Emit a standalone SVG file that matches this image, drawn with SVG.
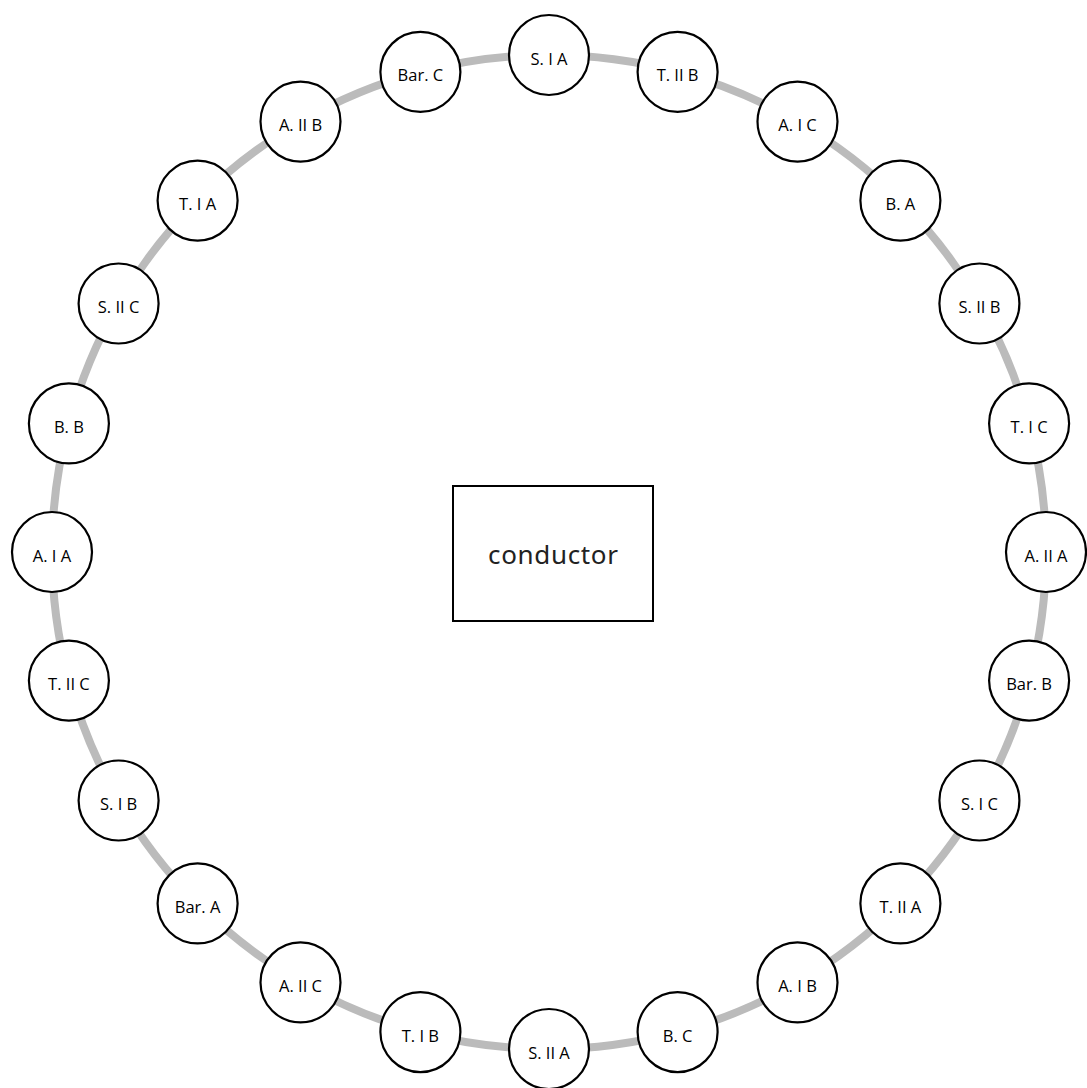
<svg xmlns="http://www.w3.org/2000/svg" width="1087" height="1088" viewBox="0 0 1087 1088">
<style>
.edge{fill:none;stroke:#bbbbbb;stroke-width:8}
.node circle{fill:#ffffff;stroke:#000000;stroke-width:2.2}
.node text{font-family:"Open Sans","Noto Sans","Liberation Sans",sans-serif;font-size:16.5px;fill:#000000;text-anchor:middle;dominant-baseline:central}
.box rect{fill:#ffffff;stroke:#000000;stroke-width:2}
.box text{font-family:"Noto Sans","Open Sans","Liberation Sans",sans-serif;font-size:26px;fill:#222222;text-anchor:middle}
</style>
<rect x="0" y="0" width="1087" height="1088" fill="#ffffff"/>
<g id="connectors">
<path class="edge" d="M549 55A497 497 0 0 1 677.6 71.9"/>
<path class="edge" d="M677.6 71.9A497 497 0 0 1 797.5 121.6"/>
<path class="edge" d="M797.5 121.6A497 497 0 0 1 900.4 200.6"/>
<path class="edge" d="M900.4 200.6A497 497 0 0 1 979.4 303.5"/>
<path class="edge" d="M979.4 303.5A497 497 0 0 1 1029.1 423.4"/>
<path class="edge" d="M1029.1 423.4A497 497 0 0 1 1046 552"/>
<path class="edge" d="M1046 552A497 497 0 0 1 1029.1 680.6"/>
<path class="edge" d="M1029.1 680.6A497 497 0 0 1 979.4 800.5"/>
<path class="edge" d="M979.4 800.5A497 497 0 0 1 900.4 903.4"/>
<path class="edge" d="M900.4 903.4A497 497 0 0 1 797.5 982.4"/>
<path class="edge" d="M797.5 982.4A497 497 0 0 1 677.6 1032.1"/>
<path class="edge" d="M677.6 1032.1A497 497 0 0 1 549 1049"/>
<path class="edge" d="M549 1049A497 497 0 0 1 420.4 1032.1"/>
<path class="edge" d="M420.4 1032.1A497 497 0 0 1 300.5 982.4"/>
<path class="edge" d="M300.5 982.4A497 497 0 0 1 197.6 903.4"/>
<path class="edge" d="M197.6 903.4A497 497 0 0 1 118.6 800.5"/>
<path class="edge" d="M118.6 800.5A497 497 0 0 1 68.9 680.6"/>
<path class="edge" d="M68.9 680.6A497 497 0 0 1 52 552"/>
<path class="edge" d="M52 552A497 497 0 0 1 68.9 423.4"/>
<path class="edge" d="M68.9 423.4A497 497 0 0 1 118.6 303.5"/>
<path class="edge" d="M118.6 303.5A497 497 0 0 1 197.6 200.6"/>
<path class="edge" d="M197.6 200.6A497 497 0 0 1 300.5 121.6"/>
<path class="edge" d="M300.5 121.6A497 497 0 0 1 420.4 71.9"/>
<path class="edge" d="M420.4 71.9A497 497 0 0 1 549 55"/>
</g>
<g id="conductor" class="box"><rect x="453" y="486" width="200" height="135"/><text x="553" y="564" textLength="130" lengthAdjust="spacing">conductor</text></g>
<g id="n-S-I-A" class="node"><circle cx="549" cy="55" r="40"/><text x="549" y="58">S. I A</text></g>
<g id="n-T-II-B" class="node"><circle cx="677.6" cy="71.9" r="40"/><text x="677.6" y="74.9">T. II B</text></g>
<g id="n-A-I-C" class="node"><circle cx="797.5" cy="121.6" r="40"/><text x="797.5" y="124.6">A. I C</text></g>
<g id="n-B-A" class="node"><circle cx="900.4" cy="200.6" r="40"/><text x="900.4" y="203.6">B. A</text></g>
<g id="n-S-II-B" class="node"><circle cx="979.4" cy="303.5" r="40"/><text x="979.4" y="306.5">S. II B</text></g>
<g id="n-T-I-C" class="node"><circle cx="1029.1" cy="423.4" r="40"/><text x="1029.1" y="426.4">T. I C</text></g>
<g id="n-A-II-A" class="node"><circle cx="1046" cy="552" r="40"/><text x="1046" y="555">A. II A</text></g>
<g id="n-Bar-B" class="node"><circle cx="1029.1" cy="680.6" r="40"/><text x="1029.1" y="683.6">Bar. B</text></g>
<g id="n-S-I-C" class="node"><circle cx="979.4" cy="800.5" r="40"/><text x="979.4" y="803.5">S. I C</text></g>
<g id="n-T-II-A" class="node"><circle cx="900.4" cy="903.4" r="40"/><text x="900.4" y="906.4">T. II A</text></g>
<g id="n-A-I-B" class="node"><circle cx="797.5" cy="982.4" r="40"/><text x="797.5" y="985.4">A. I B</text></g>
<g id="n-B-C" class="node"><circle cx="677.6" cy="1032.1" r="40"/><text x="677.6" y="1035.1">B. C</text></g>
<g id="n-S-II-A" class="node"><circle cx="549" cy="1049" r="40"/><text x="549" y="1052">S. II A</text></g>
<g id="n-T-I-B" class="node"><circle cx="420.4" cy="1032.1" r="40"/><text x="420.4" y="1035.1">T. I B</text></g>
<g id="n-A-II-C" class="node"><circle cx="300.5" cy="982.4" r="40"/><text x="300.5" y="985.4">A. II C</text></g>
<g id="n-Bar-A" class="node"><circle cx="197.6" cy="903.4" r="40"/><text x="197.6" y="906.4">Bar. A</text></g>
<g id="n-S-I-B" class="node"><circle cx="118.6" cy="800.5" r="40"/><text x="118.6" y="803.5">S. I B</text></g>
<g id="n-T-II-C" class="node"><circle cx="68.9" cy="680.6" r="40"/><text x="68.9" y="683.6">T. II C</text></g>
<g id="n-A-I-A" class="node"><circle cx="52" cy="552" r="40"/><text x="52" y="555">A. I A</text></g>
<g id="n-B-B" class="node"><circle cx="68.9" cy="423.4" r="40"/><text x="68.9" y="426.4">B. B</text></g>
<g id="n-S-II-C" class="node"><circle cx="118.6" cy="303.5" r="40"/><text x="118.6" y="306.5">S. II C</text></g>
<g id="n-T-I-A" class="node"><circle cx="197.6" cy="200.6" r="40"/><text x="197.6" y="203.6">T. I A</text></g>
<g id="n-A-II-B" class="node"><circle cx="300.5" cy="121.6" r="40"/><text x="300.5" y="124.6">A. II B</text></g>
<g id="n-Bar-C" class="node"><circle cx="420.4" cy="71.9" r="40"/><text x="420.4" y="74.9">Bar. C</text></g>
</svg>
